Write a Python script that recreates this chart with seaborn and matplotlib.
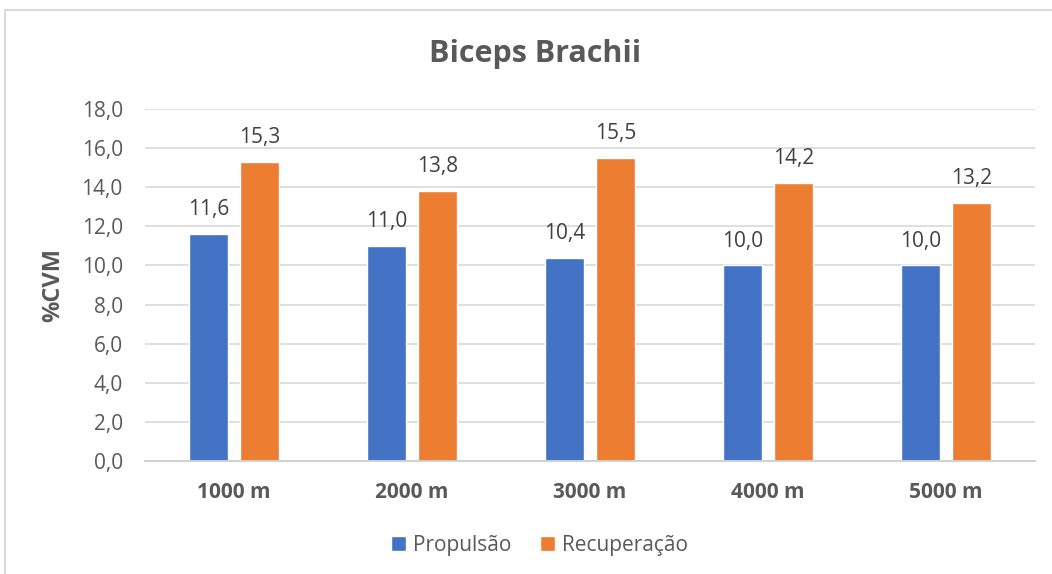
import pandas as pd
import matplotlib
matplotlib.use("Agg")
import matplotlib.pyplot as plt
from matplotlib.patches import Rectangle
from matplotlib.ticker import FuncFormatter
import seaborn as sns

# Dados do gráfico
distancias = ["1000 m", "2000 m", "3000 m", "4000 m", "5000 m"]
propulsao = [11.6, 11.0, 10.4, 10.0, 10.0]
recuperacao = [15.3, 13.8, 15.5, 14.2, 13.2]
series = ["Propulsão", "Recuperação"]
cores = ["#4472C4", "#ED7D31"]

df = pd.DataFrame({
    "Distancia": distancias * 2,
    "Fase": [series[0]] * len(distancias) + [series[1]] * len(distancias),
    "CVM": propulsao + recuperacao,
})

sns.set_theme(style="white")
plt.rcParams["font.family"] = ["Open Sans", "DejaVu Sans"]
cinza = "#595959"

fig = plt.figure(figsize=(10.52, 5.74), dpi=100)
ax = fig.add_axes([145 / 1052, 1 - 461 / 574, 890 / 1052, 352 / 574])

sns.barplot(data=df, x="Distancia", y="CVM", hue="Fase", palette=cores,
            width=0.573, gap=0.216, saturation=1, ax=ax, legend=True)

for cont in ax.containers:
    labels = [f"{v:.1f}".replace(".", ",") for v in cont.datavalues]
    ax.bar_label(cont, labels=labels, padding=10, fontsize=15, color="#404040")

ax.set_ylim(0, 18)
ax.set_xlim(-0.5, 4.5)
ax.set_yticks(range(0, 19, 2))
ax.yaxis.set_major_formatter(FuncFormatter(lambda v, p: f"{v:.1f}".replace(".", ",")))
ax.grid(axis="y", color="#d9d9d9", linewidth=1.2)
ax.set_axisbelow(True)
for s in ["left", "right", "top"]:
    ax.spines[s].set_visible(False)
ax.spines["bottom"].set_color("#d0d0d0")
ax.spines["bottom"].set_linewidth(1.4)

ax.tick_params(axis="y", labelsize=15, labelcolor=cinza, length=0, pad=16)
ax.tick_params(axis="x", labelsize=15, labelcolor=cinza, length=0, pad=15)
for t in ax.get_xticklabels():
    t.set_fontweight("bold")

ax.set_xlabel("")
ax.set_ylabel("%CVM", fontsize=17, fontweight="bold", color=cinza, labelpad=12)
fig.text(535 / 1052, 1 - 54 / 574, "Biceps Brachii", ha="center", va="center",
         fontsize=22, fontweight="bold", color=cinza)

handles, lbls = ax.get_legend_handles_labels()
ax.legend(handles, lbls, loc="center", bbox_to_anchor=(0.513, 0.05),
          bbox_transform=fig.transFigure, ncol=2, frameon=False,
          fontsize=15, labelcolor=cinza, handlelength=0.7, handleheight=0.7,
          handletextpad=0.35, columnspacing=1.4)

fig.patches.append(Rectangle((5 / 1052, -0.05), 1.1, 1 - 10 / 574 + 0.05,
                             transform=fig.transFigure, fill=False,
                             edgecolor="#d9d9d9", linewidth=1.5))

fig.savefig("out.png", dpi=100)
